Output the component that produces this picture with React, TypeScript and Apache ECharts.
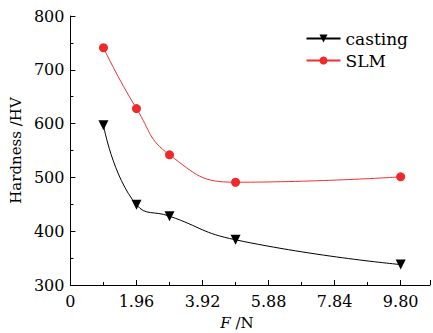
import React, { useEffect, useRef } from "react";
import * as echarts from "echarts";

const loads = [0.98, 1.96, 2.94, 4.9, 9.8];
const castingValues = [597, 449, 428, 384, 338];
const slmValues = [741, 628, 542, 491, 501];
const xTickLabels = ["0", "1.96", "3.92", "5.88", "7.84", "9.80"];

const FONT = "DejaVu Serif";

export default function App() {
  const ref = useRef<HTMLDivElement>(null);
  useEffect(() => {
    if (!ref.current) return;
    const chart = echarts.init(ref.current, null, { renderer: "svg" });
    chart.setOption({
      animation: false,
      backgroundColor: "#ffffff",
      grid: { left: 69.7, top: 16, right: 0, bottom: 48, containLabel: false },
      legend: {
        right: 20,
        top: 25,
        orient: "vertical",
        itemWidth: 34,
        itemHeight: 10,
        itemGap: 5,
        textStyle: { fontFamily: FONT, fontSize: 17, color: "#000" },
        data: ["casting", "SLM"],
      },
      graphic: [
        {
          type: "text",
          x: 237,
          y: 323,
          style: {
            text: "{i|F}{n| /N}",
            align: "center",
            verticalAlign: "middle",
            rich: {
              i: { fontFamily: FONT, fontStyle: "italic", fontSize: 15, fill: "#000" },
              n: { fontFamily: FONT, fontSize: 15, fill: "#000" },
            },
          },
        },
      ],
      xAxis: {
        type: "value",
        min: 0,
        max: 10.67,
        interval: 1.96,
        axisLine: { show: true, lineStyle: { color: "#000", width: 1 } },
        axisTick: { show: true, inside: true, length: 5, lineStyle: { color: "#000" } },
        minorTick: { show: true, splitNumber: 2, length: 3, lineStyle: { color: "#000" } },
        splitLine: { show: false },
        axisLabel: {
          fontFamily: FONT,
          fontSize: 16,
          color: "#000",
          margin: 8,
          formatter: (v: number) => {
            const idx = Math.round(v / 1.96);
            if (Math.abs(idx * 1.96 - v) > 0.01 || idx >= xTickLabels.length) return "";
            return xTickLabels[idx];
          },
        },
      },
      yAxis: {
        type: "value",
        min: 300,
        max: 800,
        interval: 100,
        name: "Hardness /HV",
        nameLocation: "middle",
        nameGap: 46,
        nameTextStyle: { fontFamily: FONT, fontSize: 15, color: "#000" },
        axisLine: { show: true, lineStyle: { color: "#000", width: 1 } },
        axisTick: { show: true, inside: true, length: 5, lineStyle: { color: "#000" } },
        minorTick: { show: true, splitNumber: 2, length: 3, lineStyle: { color: "#000" } },
        splitLine: { show: false },
        axisLabel: { fontFamily: FONT, fontSize: 16, color: "#000", margin: 6 },
      },
      series: [
        {
          name: "casting",
          type: "line",
          smooth: 0.5,
          data: loads.map((x, i) => [x, castingValues[i]]),
          symbol: "triangle",
          symbolRotate: 180,
          symbolSize: 10,
          lineStyle: { color: "#000", width: 1 },
          itemStyle: { color: "#000" },
        },
        {
          name: "SLM",
          type: "line",
          smooth: 0.5,
          data: loads.map((x, i) => [x, slmValues[i]]),
          symbol: "circle",
          symbolSize: 9,
          lineStyle: { color: "#f03030", width: 1 },
          itemStyle: { color: "#ee2a2a" },
        },
      ],
    });
    return () => chart.dispose();
  }, []);
  return <div ref={ref} style={{ width: 433, height: 333, position: "absolute", left: 0, top: 0 }} />;
}
